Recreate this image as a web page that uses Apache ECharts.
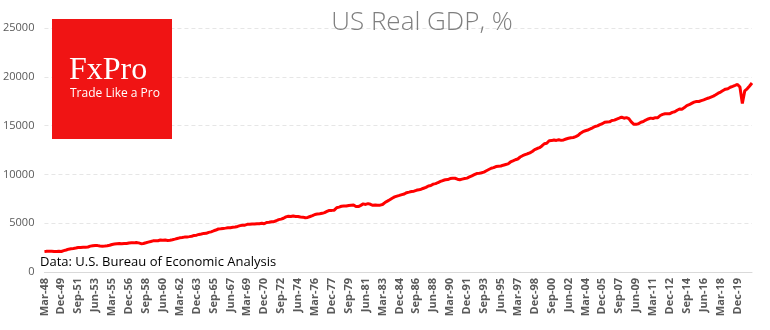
<!DOCTYPE html>
<html><head><meta charset="utf-8">
<script src="https://cdn.jsdelivr.net/npm/echarts@6/dist/echarts.min.js"></script>
<style>html,body{margin:0;padding:0;background:#fff}#c{width:770px;height:330px}</style>
</head><body><div id="c"></div>
<script>
const startYear = 1948;
const months = ['Mar','Jun','Sep','Dec'];
const gdp = [
2087.4,2121.9,2134.1,2136.4, 2107.0,2099.8,2121.5,2103.7,
2186.4,2253.0,2340.1,2384.9, 2417.3,2459.2,2509.9,2515.4,
2540.6,2546.0,2564.4,2648.6, 2697.9,2718.7,2703.4,2662.5,
2649.8,2652.6,2683.1,2735.1, 2813.2,2858.9,2897.6,2914.0,
2903.7,2927.5,2925.0,2973.2, 2992.4,2985.1,3014.1,2983.1,
2906.3,2925.4,2993.3,3063.1, 3121.9,3192.4,3194.7,3203.8,
3275.8,3258.1,3274.0,3232.0, 3253.8,3309.0,3372.3,3438.7,
3500.1,3531.7,3575.1,3586.8, 3625.3,3666.7,3747.3,3771.8,
3851.4,3893.3,3954.1,3966.3, 4062.3,4113.6,4205.1,4301.2,
4406.3,4421.7,4459.2,4495.8, 4535.6,4538.4,4581.3,4606.5,
4666.7,4752.3,4783.1,4800.1, 4883.1,4892.0,4928.3,4910.3,
4942.1,4947.0,4992.4,4938.9, 5072.9,5100.4,5142.4,5154.5,
5249.3,5368.5,5419.2,5509.9, 5646.3,5707.8,5677.7,5731.6,
5682.4,5695.2,5642.7,5620.1, 5551.7,5591.4,5687.1,5773.2,
5893.2,5936.5,5969.5,6012.4, 6083.0,6201.7,6313.6,6313.6,
6333.8,6578.6,6644.6,6734.9, 6753.3,6767.6,6819.3,6837.7,
6856.3,6704.1,6704.4,6829.1, 6980.4,6923.2,7005.4,6936.3,
6830.8,6864.1,6841.3,6848.8, 6918.6,7115.8,7258.4,7406.2,
7560.4,7690.7,7779.9,7850.8, 7925.3,7995.9,8127.7,8182.1,
8253.3,8282.0,8367.0,8418.2, 8481.4,8580.6,8669.4,8817.2,
8867.0,9002.9,9055.0,9169.2, 9280.9,9370.1,9447.1,9474.3,
9579.0,9610.4,9606.4,9506.9, 9453.2,9517.8,9570.7,9620.9,
9737.1,9847.6,9967.6,10082.9, 10104.7,10170.3,10236.6,10376.9,
10503.3,10629.1,10690.4,10804.9, 10842.3,10858.3,10943.6,11012.1,
11075.3,11273.8,11384.9,11502.1, 11580.8,11779.2,11912.7,12016.8,
12112.3,12202.6,12342.7,12533.3, 12650.3,12740.4,12913.6,13141.7,
13196.7,13450.4,13465.1,13531.2, 13481.9,13549.7,13484.8,13530.2,
13627.1,13700.4,13760.7,13782.1, 13868.5,13990.8,14219.0,14377.5,
14473.3,14545.7,14657.2,14773.0, 14912.9,14974.2,15103.6,15185.3,
15335.0,15376.3,15383.2,15524.5, 15560.6,15666.9,15762.2,15871.0,
15757.0,15820.0,15712.5,15382.0, 15146.7,15126.9,15186.7,15347.5,
15416.7,15573.5,15680.1,15764.8, 15730.5,15815.7,15809.7,16035.6,
16147.3,16208.1,16215.0,16225.0, 16355.4,16415.2,16570.1,16700.0,
16685.2,16847.2,17044.0,17139.5, 17278.1,17406.3,17463.8,17468.9,
17556.8,17639.4,17735.1,17824.2, 17925.3,18021.0,18163.6,18322.5,
18438.3,18598.1,18732.7,18783.5, 18927.3,19021.9,19121.1,19221.9,
18951.9,17258.2,18560.8,18767.8, 19055.7,19368.3
];
const categories = gdp.map((v,i)=>{
  const y = startYear + Math.floor(i/4);
  return months[i%4] + '-' + String(y%100).padStart(2,'0');
});
const yTicks = [0,5000,10000,15000,20000,25000];

const chart = echarts.init(document.getElementById('c'));
chart.setOption({
  animation:false,
  backgroundColor:'#fff',
  title:{text:'US Real GDP, %', left:417, top:5, textAlign:'center',
    textStyle:{fontFamily:'Open Sans', fontWeight:300, fontSize:26, color:'#7f7f7f'}},
  grid:{left:43, right:18, top:28, bottom:58},
  xAxis:{type:'category', data:categories, boundaryGap:false,
    axisLine:{lineStyle:{color:'#d9d9d9', width:1}},
    axisTick:{show:false},
    axisLabel:{interval:6, rotate:90, fontSize:11, fontWeight:'bold', color:'#595959',
      fontFamily:'Open Sans', margin:6}},
  yAxis:{type:'value', min:0, max:25000, interval:5000,
    axisLine:{show:false}, axisTick:{show:false},
    splitLine:{lineStyle:{color:'#e6e6e6', type:[4,3]}},
    axisLabel:{fontSize:11, color:'#595959', fontFamily:'Open Sans', margin:10,
      formatter:function(v){return String(v);}}},
  series:[{type:'line', data:gdp, showSymbol:false, symbol:'none',
    lineStyle:{color:'#ff0000', width:3}, itemStyle:{color:'#ff0000'}}],
  graphic:[
    {type:'rect', left:52, top:19, shape:{width:120, height:120}, style:{fill:'#f01414'}, z:10},
    {type:'text', left:69, top:55, style:{text:'FxPro', fill:'#fff', font:'32px "Liberation Serif", serif'}, z:11},
    {type:'text', left:70, top:88, style:{text:'Trade Like a Pro', fill:'#fff', font:'12px "Open Sans", sans-serif'}, z:11},
    {type:'text', left:40, top:256, style:{text:'Data: U.S. Bureau of Economic Analysis', fill:'#000', font:'13px "Open Sans", sans-serif'}, z:11}
  ]
});
</script></body></html>
